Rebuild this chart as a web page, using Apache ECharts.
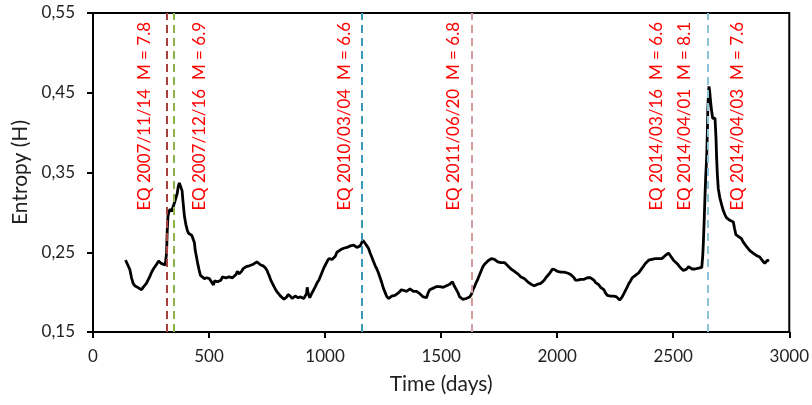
<!DOCTYPE html>
<html>
<head>
<meta charset="utf-8">
<script src="https://cdn.jsdelivr.net/npm/echarts@6/dist/echarts.min.js"></script>
<style>
html,body{margin:0;padding:0;background:#fff;}
#chart{width:812px;height:405px;}
</style>
</head>
<body>
<div id="chart"></div>
<script>
// Time (days) and Entropy (H)
const days = [140,150,159,166,173,180,187,198,209,216,223,230,237,244,251,258,266,274,283,289,294,302,311,315,317,319,321,323,327,333,338,344,351,357,363,367,372,380,384,387,391,394,400,406,411,416,426,433,437,440,446,451,457,463,470,480,490,501,508,515,519,524,530,537,544,551,558,566,572,580,587,595,601,609,616,622,626,630,634,640,646,651,660,667,673,680,691,699,706,714,723,733,744,750,754,760,766,773,780,787,794,801,808,816,823,830,835,840,844,850,858,866,871,877,884,894,901,908,916,920,923,927,934,942,951,958,966,973,980,987,994,1001,1008,1016,1023,1030,1037,1044,1051,1058,1066,1073,1080,1087,1094,1101,1109,1116,1123,1130,1137,1144,1151,1158,1163,1166,1173,1180,1187,1194,1201,1209,1216,1223,1230,1237,1244,1251,1258,1265,1273,1280,1287,1294,1301,1308,1316,1323,1329,1334,1340,1346,1351,1358,1366,1373,1380,1387,1394,1401,1408,1416,1423,1430,1437,1444,1451,1458,1466,1473,1480,1487,1494,1501,1509,1516,1523,1530,1537,1544,1549,1556,1562,1566,1573,1580,1587,1594,1601,1608,1616,1623,1630,1637,1644,1651,1659,1666,1673,1680,1687,1694,1701,1708,1716,1723,1730,1737,1744,1751,1758,1766,1773,1780,1787,1794,1801,1808,1816,1823,1830,1837,1844,1851,1858,1866,1873,1880,1887,1894,1901,1908,1916,1923,1930,1937,1944,1951,1958,1966,1973,1980,1984,1990,1995,2001,2008,2016,2023,2030,2037,2044,2051,2058,2066,2073,2078,2083,2090,2096,2101,2108,2116,2123,2130,2137,2144,2151,2158,2166,2173,2180,2187,2194,2201,2208,2216,2223,2230,2237,2244,2250,2256,2262,2269,2275,2280,2287,2294,2301,2309,2316,2323,2330,2337,2344,2351,2358,2366,2373,2380,2387,2394,2401,2408,2416,2423,2430,2437,2444,2451,2458,2466,2473,2480,2487,2494,2501,2508,2516,2523,2530,2537,2544,2551,2558,2566,2573,2580,2587,2594,2601,2609,2616,2623,2627,2630,2634,2637,2640,2644,2647,2649,2652,2654,2657,2661,2665,2670,2676,2680,2684,2687,2690,2694,2701,2709,2716,2723,2730,2737,2744,2751,2759,2764,2770,2780,2787,2794,2801,2808,2816,2823,2830,2837,2844,2851,2858,2866,2873,2880,2887,2894,2900,2906,2913];
const entropy = [0.240,0.234,0.228,0.218,0.211,0.208,0.207,0.205,0.203,0.206,0.207,0.211,0.215,0.219,0.224,0.228,0.230,0.235,0.239,0.237,0.236,0.235,0.234,0.236,0.249,0.270,0.285,0.295,0.301,0.304,0.301,0.303,0.312,0.318,0.324,0.332,0.337,0.338,0.327,0.316,0.304,0.295,0.285,0.278,0.274,0.272,0.271,0.269,0.262,0.253,0.244,0.236,0.228,0.221,0.219,0.217,0.218,0.217,0.214,0.212,0.209,0.214,0.215,0.213,0.211,0.215,0.219,0.221,0.218,0.220,0.219,0.221,0.218,0.217,0.222,0.226,0.228,0.223,0.221,0.226,0.229,0.230,0.232,0.234,0.233,0.235,0.235,0.237,0.238,0.236,0.234,0.233,0.230,0.227,0.224,0.220,0.215,0.211,0.207,0.203,0.200,0.198,0.195,0.194,0.191,0.190,0.194,0.197,0.199,0.195,0.192,0.193,0.195,0.195,0.193,0.194,0.194,0.192,0.193,0.198,0.206,0.199,0.193,0.198,0.203,0.207,0.212,0.215,0.220,0.225,0.230,0.234,0.238,0.242,0.243,0.241,0.240,0.245,0.250,0.251,0.253,0.254,0.255,0.256,0.256,0.257,0.258,0.257,0.259,0.258,0.256,0.255,0.258,0.262,0.265,0.264,0.261,0.258,0.255,0.249,0.244,0.238,0.233,0.229,0.224,0.218,0.212,0.205,0.200,0.195,0.192,0.194,0.195,0.194,0.196,0.197,0.199,0.200,0.203,0.205,0.202,0.204,0.201,0.202,0.204,0.203,0.201,0.203,0.201,0.199,0.198,0.196,0.194,0.195,0.193,0.199,0.203,0.202,0.205,0.205,0.207,0.209,0.207,0.208,0.206,0.208,0.208,0.209,0.210,0.211,0.213,0.208,0.205,0.203,0.199,0.194,0.193,0.191,0.190,0.192,0.192,0.194,0.197,0.203,0.207,0.212,0.217,0.222,0.227,0.232,0.235,0.237,0.239,0.241,0.242,0.242,0.241,0.239,0.238,0.239,0.237,0.238,0.237,0.236,0.233,0.231,0.229,0.228,0.226,0.224,0.223,0.221,0.219,0.218,0.217,0.216,0.213,0.211,0.210,0.209,0.208,0.209,0.210,0.211,0.211,0.213,0.215,0.218,0.220,0.223,0.226,0.229,0.230,0.228,0.226,0.226,0.225,0.225,0.224,0.225,0.224,0.224,0.223,0.222,0.221,0.218,0.215,0.213,0.215,0.216,0.216,0.217,0.216,0.217,0.218,0.217,0.218,0.217,0.215,0.212,0.211,0.209,0.206,0.205,0.203,0.199,0.196,0.196,0.195,0.196,0.195,0.194,0.194,0.192,0.190,0.192,0.194,0.196,0.202,0.206,0.211,0.214,0.218,0.220,0.221,0.221,0.224,0.227,0.229,0.233,0.236,0.238,0.240,0.242,0.241,0.243,0.242,0.243,0.242,0.243,0.242,0.244,0.246,0.247,0.249,0.246,0.243,0.240,0.238,0.236,0.234,0.231,0.229,0.227,0.226,0.229,0.232,0.230,0.229,0.228,0.229,0.230,0.230,0.231,0.231,0.245,0.263,0.295,0.322,0.345,0.368,0.400,0.430,0.450,0.458,0.452,0.439,0.428,0.418,0.419,0.418,0.395,0.368,0.348,0.330,0.318,0.309,0.302,0.297,0.293,0.291,0.290,0.289,0.288,0.280,0.272,0.270,0.269,0.267,0.263,0.261,0.257,0.255,0.252,0.250,0.249,0.247,0.246,0.245,0.244,0.241,0.239,0.236,0.238,0.240,0.239];

// Earthquake marker lines (days) and colours
const eqDays = [317, 349, 1158, 1631, 2647];
const eqColors = ['#a5403c', '#8db24a', '#3a98b6', '#d49c9a', '#8ec4d9'];

// Earthquake annotation texts and their anchor (days)
const eqLabels = ['EQ 2007/11/14  M = 7.8', 'EQ 2007/12/16  M = 6.9', 'EQ 2010/03/04  M = 6.6', 'EQ 2011/06/20  M = 6.8', 'EQ 2014/03/16  M = 6.6', 'EQ 2014/04/01  M = 8.1', 'EQ 2014/04/03  M = 7.6'];
const eqLabelDays = [220, 459, 1083, 1553, 2426, 2550, 2777];

// Axis ticks
const yTicks = [0.15, 0.25, 0.35, 0.45, 0.55];
const xTicks = [0, 500, 1000, 1500, 2000, 2500, 3000];

const FONT = 'Lato';
const chart = echarts.init(document.getElementById('chart'), null, {renderer: 'canvas'});

const markData = [];
eqDays.forEach((d, i) => {
  markData.push({
    xAxis: d,
    lineStyle: {color: eqColors[i], width: 2, type: [8, 5]},
    label: {show: false}
  });
});
eqLabels.forEach((t, i) => {
  markData.push({
    xAxis: eqLabelDays[i],
    lineStyle: {color: 'rgba(255,255,255,0)', width: 0},
    label: {
      show: true, formatter: t, position: 'insideEnd', distance: 9,
      color: '#ff0000', fontFamily: FONT, fontSize: 17
    }
  });
});

chart.setOption({
  animation: false,
  backgroundColor: '#ffffff',
  grid: {left: 93, right: 19, top: 13, bottom: 73, show: true, borderColor: '#000', borderWidth: 2},
  xAxis: {
    type: 'value', min: xTicks[0], max: xTicks[xTicks.length - 1], interval: 500,
    name: 'Time (days)', nameLocation: 'middle', nameGap: 42,
    nameTextStyle: {fontFamily: FONT, fontSize: 21, color: '#222'},
    axisLine: {show: true, lineStyle: {color: '#000', width: 2}},
    axisTick: {show: true, length: 6, inside: false, lineStyle: {color: '#000', width: 2}},
    axisLabel: {fontFamily: FONT, fontSize: 17, color: '#222', margin: 16, formatter: v => String(v)},
    splitLine: {show: false}
  },
  yAxis: {
    type: 'value', min: yTicks[0], max: yTicks[yTicks.length - 1],
    name: 'Entropy (H)', nameLocation: 'middle', nameGap: 60, nameRotate: 90,
    nameTextStyle: {fontFamily: FONT, fontSize: 21, color: '#222'},
    axisLine: {show: true, lineStyle: {color: '#000', width: 2}},
    axisTick: {show: true, length: 6, customValues: yTicks, lineStyle: {color: '#000', width: 2}},
    axisLabel: {fontFamily: FONT, fontSize: 17, color: '#222', margin: 18, customValues: yTicks,
      formatter: v => v.toFixed(2).replace('.', ',')},
    splitLine: {show: false}
  },
  series: [{
    type: 'line',
    data: days.map((d, i) => [d, entropy[i]]),
    showSymbol: false, symbol: 'none',
    lineStyle: {color: '#000', width: 2.8},
    z: 2,
    markLine: {
      silent: true, symbol: ['none', 'none'], animation: false,
      label: {show: true},
      data: markData
    }
  }]
});
</script>
</body>
</html>
